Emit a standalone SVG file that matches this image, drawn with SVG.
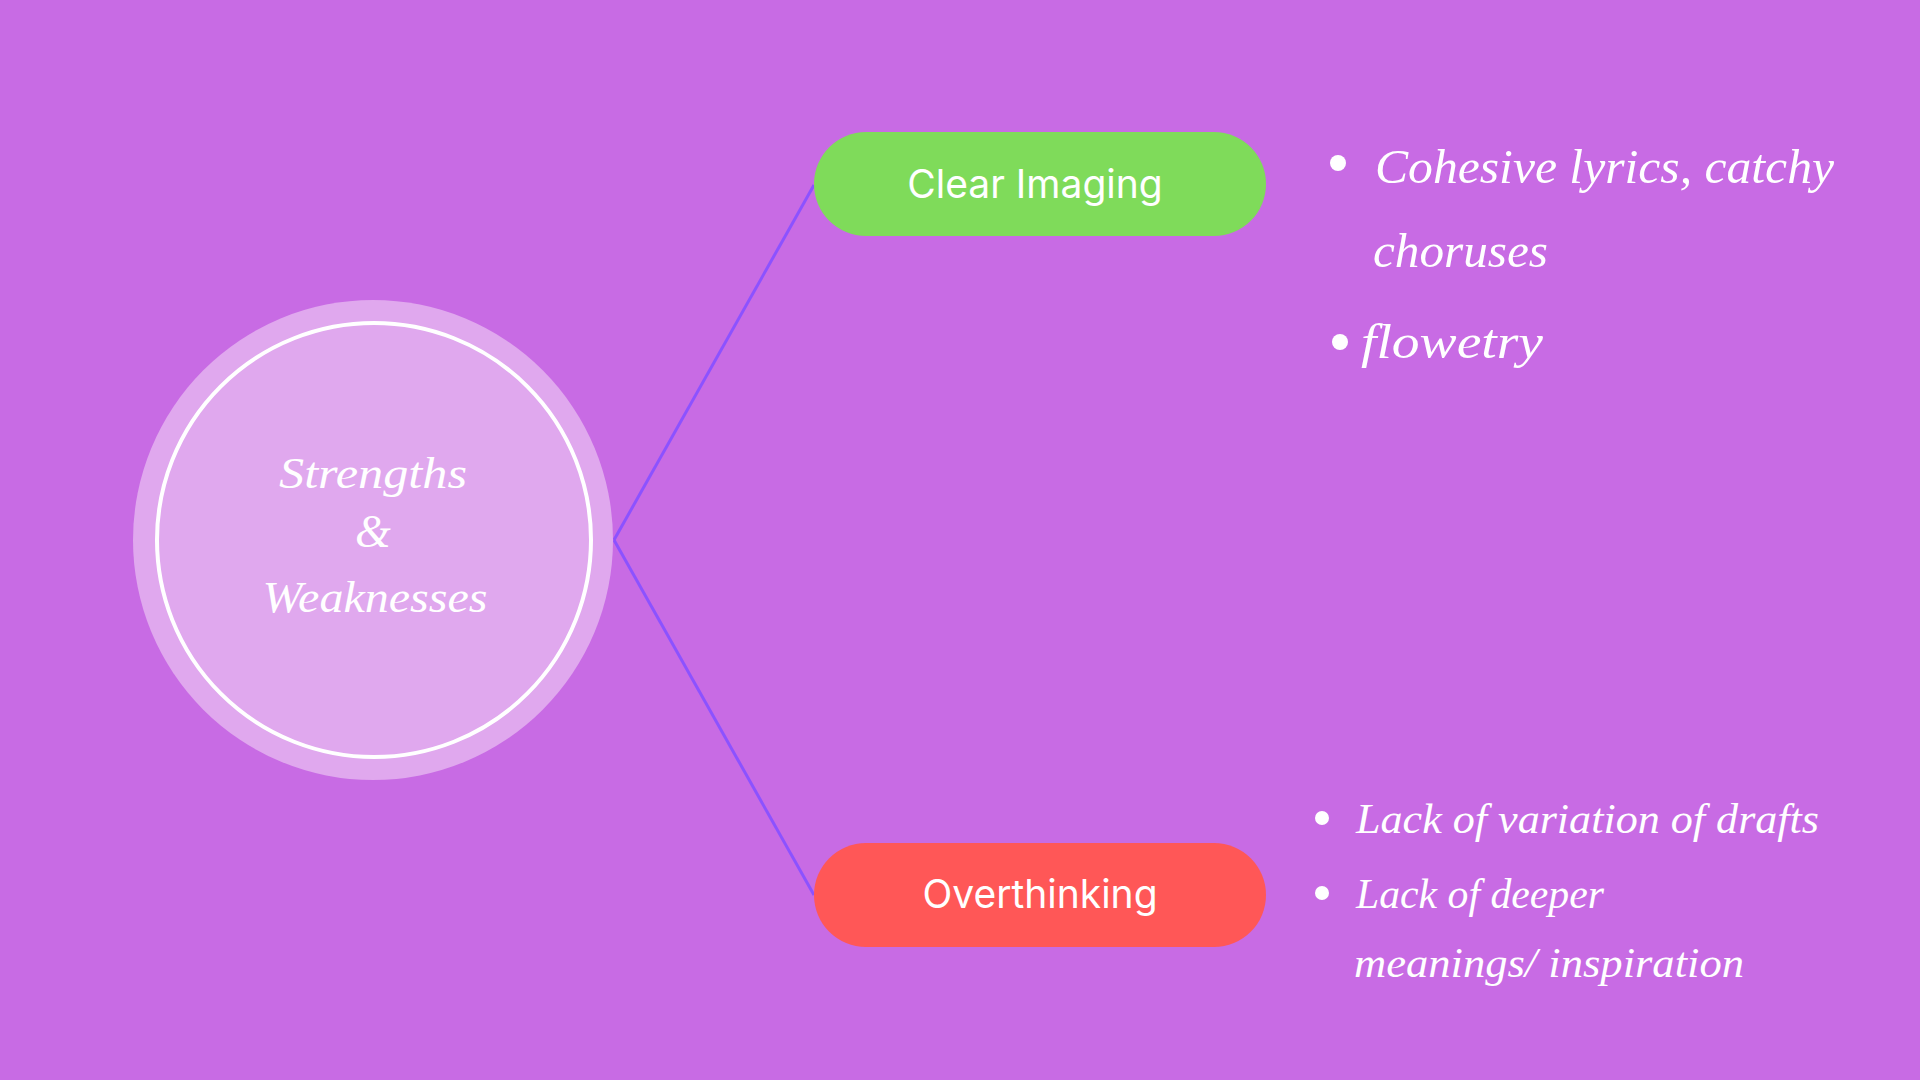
<svg xmlns="http://www.w3.org/2000/svg" width="1920" height="1080" viewBox="0 0 1920 1080">
<style>
.script{font-family:"Liberation Serif","DejaVu Serif",serif;font-style:italic;fill:#ffffff}
.pill-label{font-family:Inter,"Noto Sans",sans-serif;font-size:39px;fill:#ffffff;text-anchor:middle}
.bullet{fill:#ffffff}
.conn{stroke:#8C52FF;stroke-width:3;fill:none}
</style>
<rect x="0" y="0" width="1920" height="1080" fill="#C86BE4"/>
<g id="connectors">
<line class="conn" x1="614" y1="540" x2="814" y2="185"/>
<line class="conn" x1="614" y1="540" x2="814" y2="895"/>
</g>
<g id="node-center">
<circle cx="373" cy="540" r="240" fill="#E0A8EE"/>
<circle cx="374" cy="540" r="217" fill="none" stroke="#ffffff" stroke-width="4"/>
<text class="script" x="373" y="488" font-size="44" text-anchor="middle" textLength="188" lengthAdjust="spacingAndGlyphs">Strengths</text>
<text class="script" x="373" y="547" font-size="46" text-anchor="middle">&amp;</text>
<text class="script" x="375" y="612" font-size="44" text-anchor="middle" textLength="225" lengthAdjust="spacingAndGlyphs">Weaknesses</text>
</g>
<g id="node-clear-imaging">
<rect x="814" y="132" width="452" height="104" rx="52" fill="#7FDB5A"/>
<text class="pill-label" x="1035" y="198">Clear Imaging</text>
</g>
<g id="node-overthinking">
<rect x="814" y="843" width="452" height="104" rx="52" fill="#FF5757"/>
<text class="pill-label" x="1040" y="908">Overthinking</text>
</g>
<g id="list-strengths">
<circle class="bullet" cx="1338" cy="163" r="8"/>
<text class="script" x="1375" y="183" font-size="48" textLength="459" lengthAdjust="spacingAndGlyphs">Cohesive lyrics, catchy</text>
<text class="script" x="1373" y="267" font-size="48" textLength="175" lengthAdjust="spacingAndGlyphs">choruses</text>
<circle class="bullet" cx="1340" cy="342" r="8"/>
<text class="script" x="1361" y="358" font-size="48" textLength="182" lengthAdjust="spacingAndGlyphs">flowetry</text>
</g>
<g id="list-weaknesses">
<circle class="bullet" cx="1322" cy="818" r="7"/>
<text class="script" x="1356" y="833" font-size="42" textLength="463" lengthAdjust="spacingAndGlyphs">Lack of variation of drafts</text>
<circle class="bullet" cx="1322" cy="893" r="7"/>
<text class="script" x="1356" y="908" font-size="42" textLength="248" lengthAdjust="spacingAndGlyphs">Lack of deeper</text>
<text class="script" x="1354" y="977" font-size="42" textLength="390" lengthAdjust="spacingAndGlyphs">meanings/ inspiration</text>
</g>
</svg>
